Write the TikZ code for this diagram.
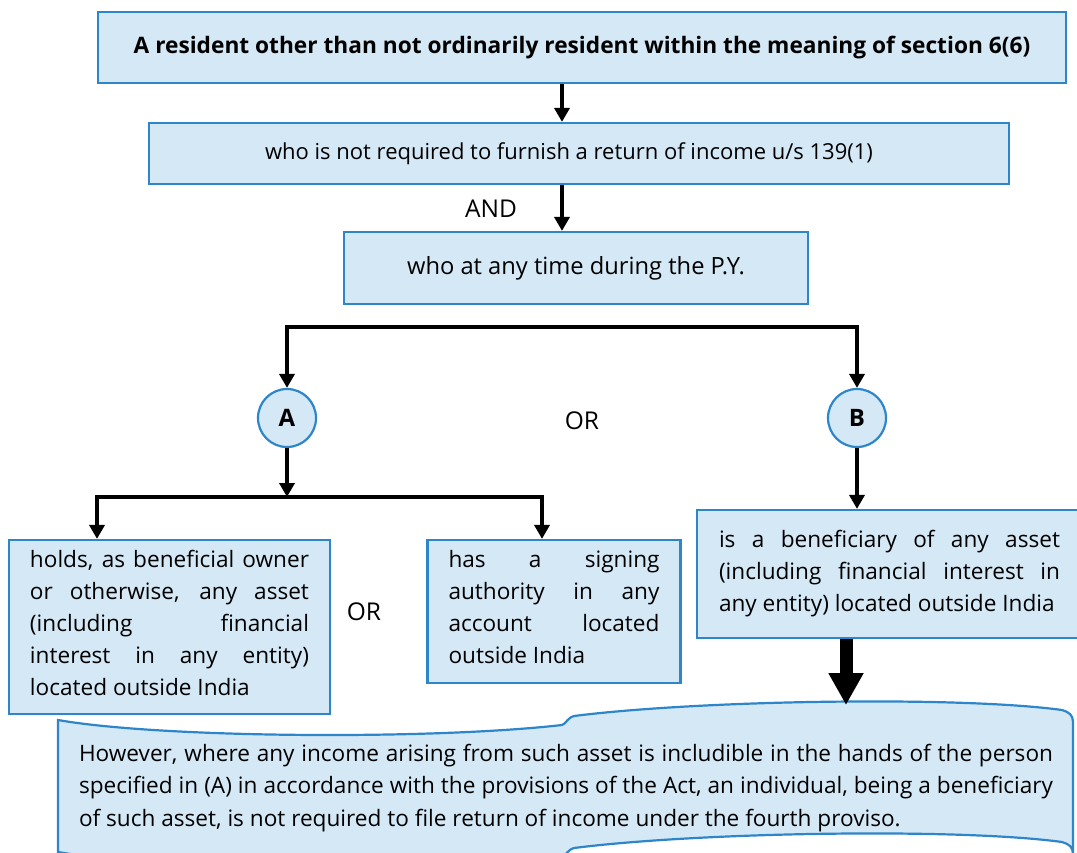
\documentclass[tikz,border=0pt]{standalone}
\usepackage{fontspec}
\setmainfont{Open Sans}
\usetikzlibrary{arrows.meta,positioning}
\definecolor{boxfill}{RGB}{213,232,246}
\definecolor{boxline}{RGB}{46,134,202}

\begin{document}
\begin{tikzpicture}[x=1pt,y=-1pt,
    box/.style={draw=boxline,fill=boxfill,line width=2.2pt,inner sep=0pt,font=\fontsize{22.6}{32}\selectfont},
    para/.style={box,align=justify,inner xsep=21pt},
    circ/.style={circle,draw=boxline,fill=boxfill,line width=2.2pt,minimum size=58pt,inner sep=0pt,font=\fontsize{24}{28}\selectfont\bfseries},
    word/.style={inner sep=0pt,font=\fontsize{24.5}{30}\selectfont},
    arr/.style={line width=3.5pt,-{Triangle[length=14pt,width=15pt]}},
    link/.style={line width=3.5pt,line cap=rect},
    bigarr/.style={line width=13pt,-{Triangle[length=32pt,width=33pt]}}]
    \useasboundingbox (0,0) rectangle (1077,852);
    \clip (0,0) rectangle (1077,852);

    % Upper chain
    \node[box,minimum width=968pt,minimum height=71pt,font=\fontsize{22.7}{28}\selectfont\bfseries] (resident) at (582,47.5)
        {A resident other than not ordinarily resident within the meaning of section 6(6)};
    \node[box,minimum width=860pt,minimum height=61pt,font=\fontsize{22}{28}\selectfont] (noreturn) at (579,153.5)
        {who is not required to furnish a return of income u/s 139(1)\hspace*{20pt}};
    \node[box,minimum width=464pt,minimum height=72pt,font=\fontsize{23.7}{30}\selectfont] (anytime) at (576,268)
        {who at any time during the P.Y.};
    \node[word] (and) at (491,209) {AND};

    \coordinate (spine) at (562,0);
    \draw[arr] (resident.south -| spine) -- (noreturn.north -| spine);
    \draw[arr] (noreturn.south -| spine) -- (anytime.north -| spine);

    % Two limbs
    \node[circ] (A) at (287,418) {A};
    \node[circ] (B) at (857,418) {B};
    \node[word] (or1) at (582,421) {OR};

    \coordinate (split) at (0,327);
    \draw[link] (A |- split) -- (B |- split);
    \draw[arr] (A |- split) -- (A.north);
    \draw[arr] (B |- split) -- (B.north);

    % Limb A
    \node[para,text width=279pt,minimum height=174pt,text depth=136pt] (holds) at (169.5,627)
        {holds, as beneficial owner\linebreak or otherwise, any asset\linebreak (including financial\linebreak interest in any entity)\linebreak located outside India};
    \node[para,text width=211pt,minimum height=143pt,text depth=106pt] (signing) at (554,611.5)
        {has a signing\linebreak authority in any\linebreak account located\linebreak outside India};
    \node[word] (or2) at (364,612) {OR};

    \coordinate (split2) at (0,497);
    \coordinate (holdsx) at (97,0);
    \coordinate (signx) at (542,0);
    \draw[arr] (A.south) -- (A |- split2);
    \draw[link] (holdsx |- split2) -- (signx |- split2);
    \draw[arr] (holdsx |- split2) -- (holdsx |- holds.north);
    \draw[arr] (signx |- split2) -- (signx |- signing.north);

    % Limb B
    \node[para,text width=341pt,minimum height=128pt,inner xsep=22pt] (benef) at (889.5,574)
        {is a beneficiary of any asset\linebreak (including financial interest in\linebreak any entity) located outside India};
    \draw[arr] (B.south) -- (B |- benef.north);

    % Proviso
    \filldraw[draw=boxline,fill=boxfill,line width=2.2pt]
        (58,720) .. controls (160,738) and (430,740) .. (562,725)
        .. controls (566,724) and (567,718) .. (574,716)
        .. controls (700,700) and (960,696) .. (1062,710)
        .. controls (1069,712) and (1073,715) .. (1073,722)
        -- (1073,854)
        .. controls (1073,847) and (1069,844) .. (1062,842)
        .. controls (960,828) and (700,832) .. (574,848)
        .. controls (567,850) and (566,856) .. (562,857)
        .. controls (430,872) and (160,870) .. (58,852)
        -- cycle;
    \node[word,text width=974pt,align=justify,font=\fontsize{22.6}{32.5}\selectfont] (proviso) at (566,788)
        {However, where any income arising from such asset is includible in the hands of the person\linebreak specified in (A) in accordance with the provisions of the Act, an individual, being a beneficiary\linebreak of such asset, is not required to file return of income under the fourth proviso.};
    \coordinate (thickx) at (846,0);
    \coordinate (provisotop) at (846,705);
    \draw[bigarr] (thickx |- benef.south) -- (provisotop);
\end{tikzpicture}
\end{document}
